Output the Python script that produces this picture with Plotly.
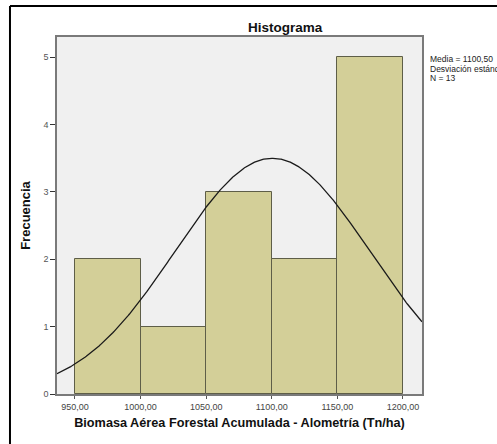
import numpy as np
import plotly.graph_objects as go

# Histogram bins (Tn/ha) and frequencies
bin_edges = [950, 1000, 1050, 1100, 1150, 1200]
frequencies = [2, 1, 3, 2, 5]

# Summary statistics shown beside the plot
media = 1100.50
desviacion = 74.10
n_obs = 13

x_tick_vals = [950, 1000, 1050, 1100, 1150, 1200]
x_tick_text = ["950,00", "1000,00", "1050,00", "1100,00", "1150,00", "1200,00"]
y_tick_vals = [0, 1, 2, 3, 4, 5]

x_range = [936.3, 1214.5]
y_range = [0, 5.3]

centers = [(a + b) / 2 for a, b in zip(bin_edges[:-1], bin_edges[1:])]
widths = [b - a for a, b in zip(bin_edges[:-1], bin_edges[1:])]

# Fitted normal curve scaled to counts
bw = widths[0]
xs = np.linspace(x_range[0], x_range[1], 400)
ys = n_obs * bw / (desviacion * np.sqrt(2 * np.pi)) * np.exp(-0.5 * ((xs - media) / desviacion) ** 2)

fig = go.Figure()
fig.add_trace(go.Bar(
    x=centers, y=frequencies, width=widths,
    marker=dict(color="#D3CF98", line=dict(color="#5e5e48", width=1)),
    hoverinfo="x+y",
))
fig.add_trace(go.Scatter(
    x=xs, y=ys, mode="lines",
    line=dict(color="#1a1a1a", width=1.3),
    hoverinfo="skip",
))

font_family = "Liberation Sans, Arial, sans-serif"

# plot area spans pixels x 57..422, y 37..394
PLOT_H = 357.0


def paper_y(py):
    return (394.0 - py) / PLOT_H


stat_lines = [
    f"Media = {media:.2f}".replace(".", ","),
    f"Desviación estándar = {desviacion:.2f}".replace(".", ","),
    f"N = {n_obs}",
]
stat_annotations = [
    dict(x=1.0164, y=paper_y(59 + 9.5 * i), xref="paper", yref="paper",
         xanchor="left", yanchor="middle", align="left", showarrow=False,
         text=line, font=dict(size=8.5, color="#222222"))
    for i, line in enumerate(stat_lines)
]

fig.update_layout(
    width=497, height=444,
    margin=dict(l=57, r=75, t=37, b=50),
    paper_bgcolor="white",
    plot_bgcolor="#F0F0F0",
    showlegend=False,
    bargap=0,
    font=dict(family=font_family, size=9, color="#333333"),
    title=dict(
        text="<b>Histograma</b>", x=0.625, xref="paper", xanchor="center",
        y=1, yref="paper", yanchor="bottom", pad=dict(b=5),
        font=dict(size=13.5, color="#111111"),
    ),
    xaxis=dict(
        range=x_range, tickvals=x_tick_vals, ticktext=x_tick_text,
        ticks="outside", ticklen=3, tickcolor="#555555",
        showgrid=False, zeroline=False,
        showline=True, linecolor="#7a7a7a", linewidth=1.5, mirror=True,
        tickfont=dict(size=9, color="#444444"),
        title=dict(text="<b>Biomasa Aérea Forestal Acumulada - Alometría (Tn/ha)</b>",
                   font=dict(size=12.7, color="#111111"), standoff=8),
    ),
    yaxis=dict(
        range=y_range, tickvals=y_tick_vals,
        ticks="outside", ticklen=5, tickcolor="#333333",
        showgrid=False, zeroline=False,
        showline=True, linecolor="#7a7a7a", linewidth=1.5, mirror=True,
        tickfont=dict(size=9, color="#555555"),
        title=dict(text="<b>Frecuencia</b>", font=dict(size=13, color="#111111"), standoff=10),
    ),
    annotations=stat_annotations,
    shapes=[
        # outer frame (left and top edges visible)
        dict(type="line", xref="paper", yref="paper",
             x0=-0.1288, x1=-0.1288, y0=1.0868, y1=-0.2, line=dict(color="black", width=2)),
        dict(type="line", xref="paper", yref="paper",
             x0=-0.1288, x1=1.3, y0=1.0868, y1=1.0868, line=dict(color="black", width=2)),
    ],
)

fig.write_html("out.html")
